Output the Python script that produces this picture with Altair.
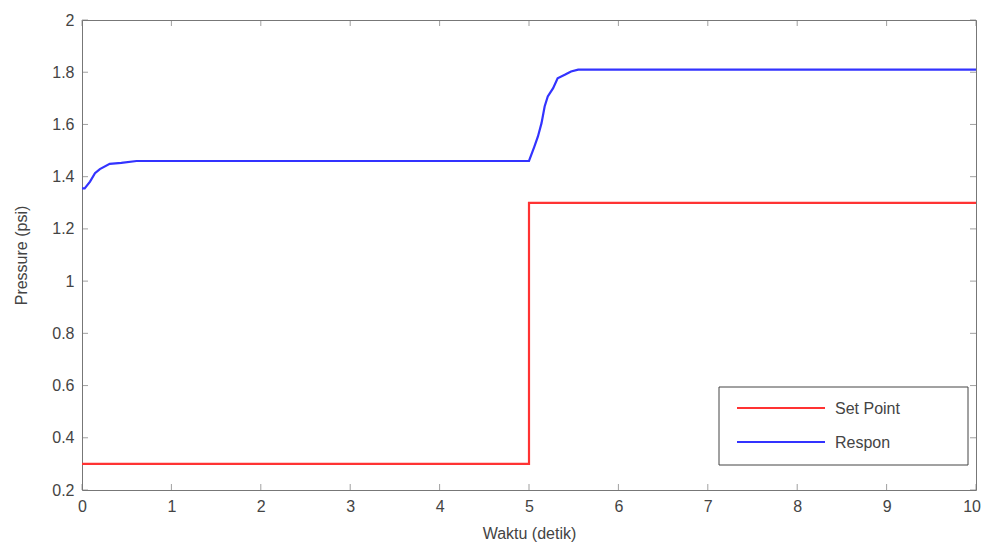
import altair as alt
import pandas as pd

# ---- data ----
resp_t = [0.0, 0.03, 0.09, 0.145, 0.2, 0.31, 0.44, 0.61, 1.0, 2.0, 3.0, 4.0, 5.0,
          5.06, 5.10, 5.14, 5.175, 5.21, 5.27, 5.32, 5.40, 5.47, 5.55, 6.0, 7.0, 8.0, 9.0, 10.0]
resp_p = [1.355, 1.355, 1.381, 1.413, 1.429, 1.449, 1.453, 1.46, 1.46, 1.46, 1.46, 1.46, 1.46,
          1.515, 1.554, 1.605, 1.669, 1.707, 1.739, 1.777, 1.79, 1.803, 1.81, 1.81, 1.81, 1.81, 1.81, 1.81]
sp_t = [0.0, 5.0, 5.0, 10.0]
sp_p = [0.3, 0.3, 1.3, 1.3]

series_names = ["Set Point", "Respon"]
series_colors = ["#ff3333", "#3333ff"]

x_ticks = [0, 1, 2, 3, 4, 5, 6, 7, 8, 9, 10]
y_ticks = [0.2, 0.4, 0.6, 0.8, 1.0, 1.2, 1.4, 1.6, 1.8, 2.0]

W, H = 894, 470
GRAY = "#777777"
TXT = "#444444"
FONT = "Liberation Sans"
X_TITLE = "Waktu (detik)"
Y_TITLE = "Pressure (psi)"

df = pd.concat([
    pd.DataFrame({"t": sp_t, "p": sp_p, "s": series_names[0], "o": range(len(sp_t))}),
    pd.DataFrame({"t": resp_t, "p": resp_p, "s": series_names[1], "o": range(len(resp_t))}),
])

xs = alt.Scale(domain=[0, 10], nice=False, zero=False)
ys = alt.Scale(domain=[0.2, 2], nice=False, zero=False)
cs = alt.Scale(domain=series_names, range=series_colors)

x_axis = alt.Axis(values=x_ticks, format="~r", ticks=False, domain=False, grid=False,
                  labelFlush=True, labelFlushOffset=4.5, labelFontSize=16, labelColor=TXT,
                  labelFont=FONT, labelPadding=8, titleFontSize=16, titleColor=TXT,
                  titleFont=FONT, titleFontWeight="normal", titlePadding=11)
y_axis = alt.Axis(values=y_ticks, format="~r", ticks=False, domain=False, grid=False,
                  labelFlush=False, labelFontSize=16, labelColor=TXT, labelFont=FONT,
                  labelPadding=8, titleFontSize=16, titleColor=TXT, titleFont=FONT,
                  titleFontWeight="normal", titlePadding=22)

lines = alt.Chart(df).mark_line(strokeWidth=2.2, clip=True).encode(
    x=alt.X("t:Q", scale=xs, title=X_TITLE, axis=x_axis),
    y=alt.Y("p:Q", scale=ys, title=Y_TITLE, axis=y_axis),
    color=alt.Color("s:N", scale=cs, legend=None),
    detail="s:N",
    order="o:Q",
)

xt = pd.DataFrame({"v": x_ticks})
yt = pd.DataFrame({"v": y_ticks})
tick_bottom = alt.Chart(xt).mark_tick(color=GRAY, size=6, thickness=1, yOffset=-3).encode(
    x=alt.X("v:Q", scale=xs, title=X_TITLE, axis=x_axis), y=alt.value(H))
tick_top = alt.Chart(xt).mark_tick(color=GRAY, size=6, thickness=1, yOffset=3).encode(
    x=alt.X("v:Q", scale=xs, title=X_TITLE, axis=x_axis), y=alt.value(0))
tick_left = alt.Chart(yt).mark_tick(color=GRAY, size=6, thickness=1, xOffset=3).encode(
    y=alt.Y("v:Q", scale=ys, title=Y_TITLE, axis=y_axis), x=alt.value(0))
tick_right = alt.Chart(yt).mark_tick(color=GRAY, size=6, thickness=1, xOffset=-3).encode(
    y=alt.Y("v:Q", scale=ys, title=Y_TITLE, axis=y_axis), x=alt.value(W))

# ---- legend box (decoration) ----
box = alt.Chart(pd.DataFrame({"a": [0]})).mark_rect(
    fill="white", stroke="#444444", strokeWidth=1).encode(
    x=alt.value(637), x2=alt.value(886), y=alt.value(367), y2=alt.value(445))
leg_layers = []
for i, (name, col) in enumerate(zip(series_names, series_colors)):
    d = pd.DataFrame({"s": [name]})
    leg_layers.append(alt.Chart(d).mark_rule(strokeWidth=2.2, color=col).encode(
        x=alt.value(655), x2=alt.value(743), y=alt.value(388 + 34 * i)))
    leg_layers.append(alt.Chart(d).mark_text(align="left", baseline="middle", fontSize=16,
                                             font=FONT, color=TXT).encode(
        x=alt.value(753), y=alt.value(389 + 34 * i), text="s:N"))

chart = alt.layer(
    lines, tick_bottom, tick_top, tick_left, tick_right, box, *leg_layers
).properties(
    width=W, height=H,
    autosize=alt.AutoSizeParams(type="none"),
    padding={"left": 74, "top": 12, "right": 8, "bottom": 52},
    background="white",
).configure_view(stroke=GRAY, strokeWidth=1)

chart.save("out.html", embed_options={"renderer": "svg", "actions": False})
